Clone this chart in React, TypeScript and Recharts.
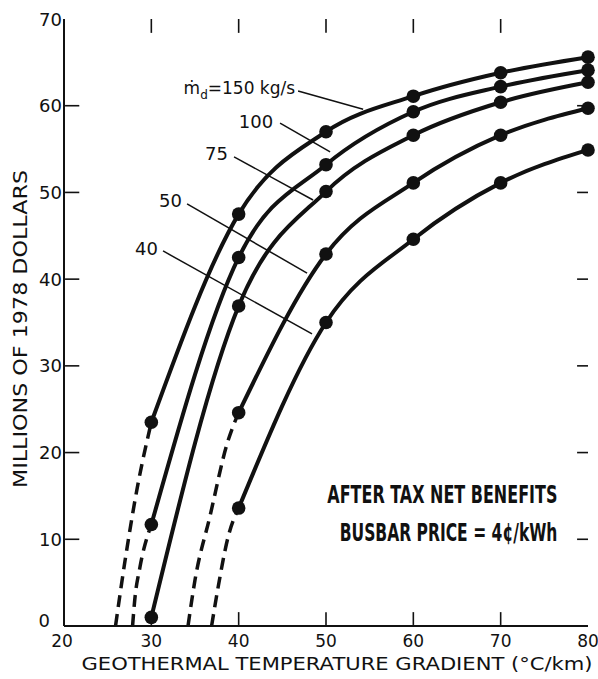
import React from "react";
import {
  LineChart,
  Line,
  XAxis,
  YAxis,
  ReferenceLine,
  ReferenceDot,
} from "recharts";

// geothermal gradient (°C/km) and net benefits (millions of 1978 $)
const gradient = [30, 40, 50, 60, 70, 80];
const gradientFrom40 = [40, 50, 60, 70, 80];
const flow150 = [23.5, 47.5, 57.0, 61.1, 63.8, 65.6];
const flow100 = [11.7, 42.5, 53.2, 59.3, 62.2, 64.1];
const flow75 = [1.0, 36.9, 50.1, 56.6, 60.4, 62.7];
const flow50 = [24.6, 42.9, 51.1, 56.6, 59.7];
const flow40 = [13.6, 35.0, 44.6, 51.1, 54.9];

// dashed extrapolations down to zero
const dash150X = [25.9, 27.0, 28.4, 30];
const dash150Y = [0, 7.6, 16.0, 23.5];
const dash100X = [27.85, 28.1, 28.7, 30];
const dash100Y = [0, 3.0, 6.8, 11.7];
const dash50X = [34.2, 35.0, 36.7, 38.7, 40];
const dash50Y = [0, 5.3, 12.6, 21.1, 24.6];
const dash40X = [36.9, 37.6, 38.8, 40];
const dash40Y = [0, 4.2, 10.3, 13.6];

const xTicks = [20, 30, 40, 50, 60, 70, 80];
const yTicks = [0, 10, 20, 30, 40, 50, 60, 70];
const innerXTicks = [30, 40, 50, 60, 70];
const innerYTicks = [10, 20, 30, 40, 50, 60];

// leader lines: [label end, curve end]
const leaders = [
  { name: "150", from: [46.8, 61.7], to: [54.25, 59.6] },
  { name: "100", from: [44.74, 58.0], to: [50.47, 54.67] },
  { name: "75", from: [39.47, 54.1], to: [48.52, 49.13] },
  { name: "50", from: [34.09, 48.67], to: [47.83, 40.7] },
  { name: "40", from: [31.34, 43.25], to: [48.4, 33.68] },
];

const seriesLabels = [
  { text: "100", x: 41.98, y: 58.13 },
  { text: "75", x: 37.46, y: 54.44 },
  { text: "50", x: 32.2, y: 49.07 },
  { text: "40", x: 29.45, y: 43.48 },
];

const toPoints = (xs: number[], ys: number[]) =>
  xs.map((x, i) => ({ x, y: ys[i] }));

const INK = "#111";
const FONT = "'DejaVu Sans', sans-serif";
const NARROW = "'Liberation Sans Narrow', 'DejaVu Sans Condensed', sans-serif";

// inward tick lengths, in axis units
const X_TICK_LEN = 1.6;
const Y_TICK_LEN = 1.75;
const Y_TICK_LEN_RIGHT = 1.25;
const EDGE = 0.12; // start just inside the frame

type Seg = { key: string; a: [number, number]; b: [number, number] };

const tickSegs: Seg[] = [
  ...innerXTicks.map((t) => ({ key: `tt-${t}`, a: [t, 70], b: [t, 70 - X_TICK_LEN] } as Seg)),
  ...innerYTicks.map((t) => ({ key: `tr-${t}`, a: [80, t], b: [80 - Y_TICK_LEN_RIGHT, t] } as Seg)),
  ...innerXTicks.map((t) => ({ key: `tb-${t}`, a: [t, EDGE], b: [t, X_TICK_LEN] } as Seg)),
  ...innerYTicks.map((t) => ({ key: `tl-${t}`, a: [20 + EDGE, t], b: [20 + Y_TICK_LEN, t] } as Seg)),
];

const BottomTick = ({ x, y, payload }: any) => {
  const v = payload.value;
  return (
    <text
      x={v === 20 ? x - 2 : x}
      y={y + 21}
      textAnchor="middle"
      fontFamily={FONT}
      fontSize={17}
      fill={INK}
    >
      {v}
    </text>
  );
};

const LeftTick = ({ x, y, payload }: any) => {
  const v = payload.value;
  const isZero = v === 0;
  return (
    <text
      x={isZero ? x - 14 : x - 2}
      y={isZero ? y + 1 : y + 6.5}
      textAnchor="end"
      fontFamily={FONT}
      fontSize={18}
      fill={INK}
    >
      {v}
    </text>
  );
};

const NoLabel = () => <g />;

const solidProps = {
  xAxisId: "b",
  yAxisId: "l",
  type: "monotone" as const,
  dataKey: "y",
  stroke: INK,
  strokeWidth: 4,
  dot: { r: 6.8, fill: INK, stroke: INK, strokeWidth: 0 },
  activeDot: false,
  isAnimationActive: false,
};

const dashedProps = {
  xAxisId: "b",
  yAxisId: "l",
  type: "monotone" as const,
  dataKey: "y",
  stroke: INK,
  strokeWidth: 3.5,
  strokeDasharray: "12 7",
  dot: false,
  activeDot: false,
  isAnimationActive: false,
};

export default function App() {
  return (
    <div style={{ position: "absolute", left: 0, top: 0, background: "#fff" }}>
      <LineChart
        width={598}
        height={679}
        margin={{ top: 19, right: 10, bottom: 0, left: 0 }}
      >
        <XAxis
          xAxisId="b"
          type="number"
          dataKey="x"
          domain={[20, 80]}
          ticks={xTicks}
          interval={0}
          height={53}
          tickSize={0}
          tickMargin={0}
          tickLine={false}
          tick={BottomTick}
          axisLine={{ stroke: INK, strokeWidth: 2 }}
          label={{
            content: () => (
              <text
                x={337}
                y={670}
                textAnchor="middle"
                fontFamily={FONT}
                fontSize={18}
                fill={INK}
                textLength={511}
                lengthAdjust="spacingAndGlyphs"
              >
                GEOTHERMAL TEMPERATURE GRADIENT (°C/km)
              </text>
            ),
          }}
        />
        <XAxis
          xAxisId="t"
          orientation="top"
          type="number"
          dataKey="x"
          domain={[20, 80]}
          ticks={xTicks}
          height={0}
          tickLine={false}
          tick={NoLabel}
          axisLine={{ stroke: INK, strokeWidth: 2 }}
        />
        <YAxis
          yAxisId="l"
          type="number"
          domain={[0, 70]}
          ticks={yTicks}
          interval={0}
          width={64}
          tickSize={0}
          tickMargin={0}
          tickLine={false}
          tick={LeftTick}
          axisLine={{ stroke: INK, strokeWidth: 2 }}
          label={{
            content: () => (
              <text
                x={27}
                y={329}
                transform="rotate(-90 27 329)"
                textAnchor="middle"
                fontFamily={FONT}
                fontSize={20}
                fill={INK}
                textLength={318}
                lengthAdjust="spacingAndGlyphs"
              >
                MILLIONS OF 1978 DOLLARS
              </text>
            ),
          }}
        />
        <YAxis
          yAxisId="r"
          orientation="right"
          type="number"
          domain={[0, 70]}
          ticks={yTicks}
          width={0}
          tickLine={false}
          tick={NoLabel}
          axisLine={{ stroke: INK, strokeWidth: 2 }}
        />

        {/* inward tick marks on all four sides */}
        {tickSegs.map((s) => (
          <ReferenceLine
            key={s.key}
            xAxisId="b"
            yAxisId="l"
            ifOverflow="visible"
            segment={[
              { x: s.a[0], y: s.a[1] },
              { x: s.b[0], y: s.b[1] },
            ]}
            stroke={INK}
            strokeWidth={1.6}
          />
        ))}

        {leaders.map((l) => (
          <ReferenceLine
            key={`leader-${l.name}`}
            xAxisId="b"
            yAxisId="l"
            segment={[
              { x: l.from[0], y: l.from[1] },
              { x: l.to[0], y: l.to[1] },
            ]}
            stroke={INK}
            strokeWidth={1.5}
          />
        ))}

        <Line {...dashedProps} data={toPoints(dash150X, dash150Y)} />
        <Line {...dashedProps} data={toPoints(dash100X, dash100Y)} />
        <Line {...dashedProps} data={toPoints(dash50X, dash50Y)} />
        <Line {...dashedProps} data={toPoints(dash40X, dash40Y)} />

        <Line {...solidProps} data={toPoints(gradient, flow150)} />
        <Line {...solidProps} data={toPoints(gradient, flow100)} />
        <Line {...solidProps} data={toPoints(gradient, flow75)} />
        <Line {...solidProps} data={toPoints(gradientFrom40, flow50)} />
        <Line {...solidProps} data={toPoints(gradientFrom40, flow40)} />

        <ReferenceDot
          xAxisId="b"
          yAxisId="l"
          x={46.46}
          y={61.36}
          r={0}
          shape={(p: any) => (
            <text
              x={p.cx}
              y={p.cy}
              textAnchor="end"
              fontFamily={FONT}
              fontSize={17}
              fill={INK}
            >
              ṁ
              <tspan fontSize={12} dy={5}>
                d
              </tspan>
              <tspan dy={-5}>=150 kg/s</tspan>
            </text>
          )}
        />
        {seriesLabels.map((s) => (
          <ReferenceDot
            key={`lbl-${s.text}`}
            xAxisId="b"
            yAxisId="l"
            x={s.x}
            y={s.y}
            r={0}
            shape={(p: any) => (
              <text
                x={p.cx}
                y={p.cy + 6.5}
                textAnchor="middle"
                fontFamily={FONT}
                fontSize={18}
                fill={INK}
              >
                {s.text}
              </text>
            )}
          />
        ))}
        <ReferenceDot
          xAxisId="b"
          yAxisId="l"
          x={76.5}
          y={14.2}
          r={0}
          shape={(p: any) => (
            <g
              fontFamily={NARROW}
              fontWeight="bold"
              fontSize={24}
              fill={INK}
              textAnchor="end"
            >
              <text transform={`translate(${p.cx},${p.cy}) scale(0.74,1)`}>
                AFTER TAX NET BENEFITS
              </text>
              <text transform={`translate(${p.cx},${p.cy + 38}) scale(0.72,1)`}>
                BUSBAR PRICE = 4¢/kWh
              </text>
            </g>
          )}
        />
      </LineChart>
    </div>
  );
}
